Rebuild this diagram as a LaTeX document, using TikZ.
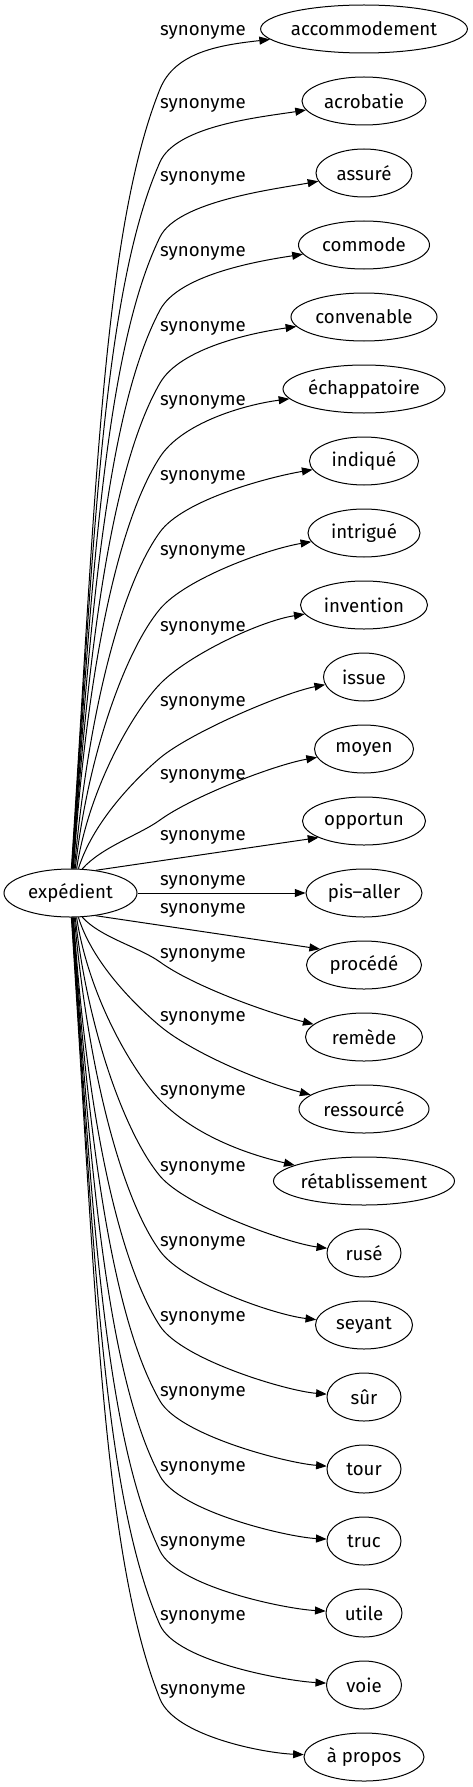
\documentclass[tikz,border=0pt]{standalone}
\usepackage{fontspec}
\setmainfont{Fira Sans}
\usetikzlibrary{arrows.meta,calc,shapes.geometric}
\begin{document}
\begin{tikzpicture}[x=0.75pt,y=-0.75pt,
  font=\fontsize{14}{16.8}\selectfont,
  nd/.style={draw, ellipse, line width=0.75pt, inner sep=0pt, minimum height=36pt},
  lab/.style={inner sep=0pt},
  edge/.style={line width=0.75pt, -{Triangle[length=8pt,width=6pt]}}]
\useasboundingbox (0,0) rectangle (472,1787);
\node[nd, minimum width=99.75pt] (e) at (70.5,893) {expédient};
\foreach \i/\t/\w in {1/accommodement/152.25, 2/acrobatie/93, 3/assuré/72, 4/commode/98.25,
  5/convenable/109.5, 6/échappatoire/121.5, 7/indiqué/81.75, 8/intrigué/84, 9/invention/95.25,
  10/issue/60.75, 11/moyen/74.25, 12/opportun/92.25, 13/pis–aller/87, 14/procédé/86.25,
  15/remède/87.75, 16/ressourcé/97.5, 17/rétablissement/135.75, 18/rusé/55.5, 19/seyant/72.75,
  20/sûr/55.5, 21/tour/55.5, 22/truc/55.5, 23/utile/57, 24/voie/56.25, 25/à propos/90}
  {\node[nd, minimum width=\w pt] (n\i) at (364,{29+72*(\i-1)}) {\t};}
\foreach \i/\ly in {1/32, 2/105, 3/178, 4/253, 5/328, 6/402, 7/477, 8/552, 9/628, 10/703,
  11/776, 12/837, 13/882, 14/910, 15/955, 16/1018, 17/1092, 18/1168, 19/1243, 20/1318,
  21/1393, 22/1468, 23/1543, 24/1617, 25/1691}
  {\node[lab] (l\i) at (203,\ly) {synonyme};}
% upper edges
\foreach \i/\t/\ym/\p/\cx in {1/88/89/68/0.03, 2/87/162/66/0.03, 3/86/237/64/0.03, 4/85/310/62/0.03,
  5/84/383/60/0.03, 6/83/457/57/0.03, 7/81/532/54/0.04, 8/79/609/50/0.05, 9/76/684/46/0.07,
  10/72/758/40/0.14, 11/64/820/36/0.4}{
  \pgfmathsetmacro\D{869-\ym}
  \pgfmathsetmacro\B{max(0.2*\D,25)}
  \coordinate (m\i) at (160,\ym);
  \draw[edge] (e.\t) .. controls ($(e.\t)+({\cx*\D},{-0.45*\D})$) and ($(m\i)+({-\B*cos(\p)},{\B*sin(\p)})$) .. (m\i)
     .. controls ($(m\i)+({40*cos(\p)},{-40*sin(\p)})$) and ($(n\i.west)+(-40,16)$) .. (n\i);
}
% middle edges
\draw[edge] (e.42) -- (n12.200);
\draw[edge] (e) -- (n13);
\draw[edge] (e.-42) -- (n14.160);
% lower edges
\foreach \i/\t/\ym/\p/\dy/\cx in {15/-64/962/36/25/0.4, 16/-72/1026/40/28/0.14, 17/-76/1100/46/30/0.07,
  18/-79/1176/50/10/0.05, 19/-81/1251/54/10/0.04, 20/-83/1326/57/6/0.03, 21/-84/1401/60/6/0.03,
  22/-85/1476/62/4/0.03, 23/-86/1551/64/4/0.03, 24/-87/1625/66/4/0.03, 25/-88/1699/68/4/0.03}{
  \pgfmathsetmacro\D{\ym-917}
  \pgfmathsetmacro\B{max(0.2*\D,25)}
  \coordinate (m\i) at (160,\ym);
  \draw[edge] (e.\t) .. controls ($(e.\t)+({\cx*\D},{0.45*\D})$) and ($(m\i)+({-\B*cos(\p)},{-\B*sin(\p)})$) .. (m\i)
     .. controls ($(m\i)+({40*cos(\p)},{40*sin(\p)})$) and ($(n\i.west)+(-40,-\dy)$) .. (n\i);
}
\end{tikzpicture}
\end{document}
